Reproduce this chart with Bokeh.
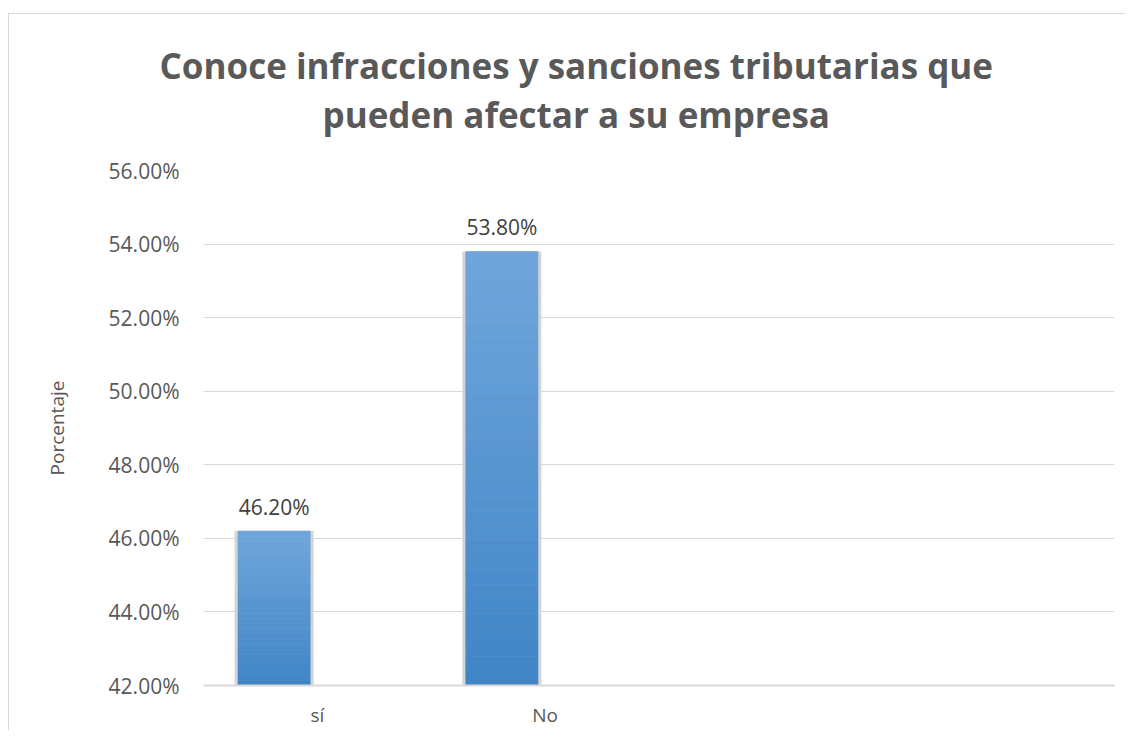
import numpy as np
from bokeh.plotting import figure
from bokeh.models import FactorRange, Range1d, FixedTicker, NumeralTickFormatter, Title, ColumnDataSource
from bokeh.transform import dodge
from bokeh.core.properties import value
from bokeh.embed import file_html
from bokeh.resources import INLINE

# ---- data ----
categories = ["sí", "No", " ", "  "]
bar_categories = ["sí", "No"]
percentages = [0.462, 0.538]
y_ticks = [0.42, 0.44, 0.46, 0.48, 0.50, 0.52, 0.54, 0.56]
title_line1 = "Conoce infracciones y sanciones tributarias que"
title_line2 = "pueden afectar a su empresa"
y_label = "Porcentaje"

FONT = "Open Sans"
GRAY = "#595959"

p = figure(width=1116, height=716, output_backend="svg", toolbar_location=None,
           x_range=FactorRange(factors=categories, range_padding=0),
           y_range=Range1d(0.42, 0.56),
           min_border_left=194, min_border_right=12, min_border_top=156, min_border_bottom=46)
p.styles = {"border-left": "1px solid #D9D9D9", "border-top": "1px solid #D9D9D9",
            "border-right": "0px none", "border-bottom": "0px none",
            "box-sizing": "content-box", "margin-left": "8px", "margin-top": "13px"}
p.outline_line_color = None
p.background_fill_color = "white"
p.border_fill_color = "white"

# grid
p.xgrid.grid_line_color = None
p.ygrid.grid_line_color = "#D9D9D9"
p.ygrid.grid_line_width = 1
p.ygrid.ticker = FixedTicker(ticks=y_ticks)

# y axis
p.yaxis.ticker = FixedTicker(ticks=y_ticks)
p.yaxis.formatter = NumeralTickFormatter(format="0.00%")
p.yaxis.axis_line_color = None
p.yaxis.major_tick_line_color = None
p.yaxis.minor_tick_line_color = None
p.yaxis.major_tick_out = 0
p.yaxis.major_label_standoff = 24
p.yaxis.major_label_text_font = FONT
p.yaxis.major_label_text_font_size = "21px"
p.yaxis.major_label_text_color = GRAY
p.yaxis.axis_label = y_label
p.yaxis.axis_label_text_font = FONT
p.yaxis.axis_label_text_font_size = "19px"
p.yaxis.axis_label_text_font_style = "normal"
p.yaxis.axis_label_text_color = GRAY
p.yaxis.axis_label_standoff = 36

# x axis
p.xaxis.axis_line_color = "#D9D9D9"
p.xaxis.axis_line_width = 2
p.xaxis.major_tick_line_color = None
p.xaxis.minor_tick_line_color = None
p.xaxis.major_tick_out = 0
p.xaxis.major_label_standoff = 16
p.xaxis.major_label_text_font = FONT
p.xaxis.major_label_text_font_size = "19px"
p.xaxis.major_label_text_color = GRAY

bar_w = 0.317
offset = -0.19
base = 0.42

# shadow behind bars
shadow = ColumnDataSource(dict(x=bar_categories, top=percentages))
p.vbar(x=dodge("x", offset, range=p.x_range), top="top", bottom=base, width=bar_w + 0.03,
       source=shadow, fill_color="#D4D4D4", line_color=None)

# gradient bars (sliced from each bar's own height)
N = 30
top_c = np.array([0x70, 0xA6, 0xDB])
bot_c = np.array([0x3F, 0x85, 0xC7])
xs, bots, tops, cols = [], [], [], []
for cat, v in zip(bar_categories, percentages):
    edges = np.linspace(base, v, N + 1)
    for k in range(N):
        t = (k + 0.5) / N
        c = bot_c + (top_c - bot_c) * t
        xs.append(cat)
        bots.append(edges[k])
        tops.append(edges[k + 1])
        cols.append("#%02x%02x%02x" % tuple(int(round(q)) for q in c))
src = ColumnDataSource(dict(x=xs, bottom=bots, top=tops, color=cols))
p.vbar(x=dodge("x", offset, range=p.x_range), bottom="bottom", top="top", width=bar_w,
       source=src, fill_color="color", line_color="color", line_width=0.6)

# data labels
lab = ColumnDataSource(dict(x=bar_categories, y=percentages,
                            t=["%.2f%%" % (v * 100) for v in percentages]))
p.text(x=dodge("x", offset, range=p.x_range), y="y", text="t", source=lab,
       text_align="center", text_baseline="alphabetic", y_offset=-24,
       text_font=value(FONT), text_font_size="21px", text_color="#404040")

# title: spacer closest to plot, then line 2, then line 1
p.add_layout(Title(text=" ", text_font_size="10px", standoff=20, text_color="white"), "above")
p.add_layout(Title(text=title_line2, align="left", offset=119, standoff=0, text_font=FONT,
                   text_font_size="35px", text_font_style="bold", text_color=GRAY), "above")
p.add_layout(Title(text=title_line1, align="left", offset=-44, standoff=0, text_font=FONT,
                   text_font_size="35px", text_font_style="bold", text_color=GRAY), "above")

open("out.html", "w").write(file_html(p, INLINE))
